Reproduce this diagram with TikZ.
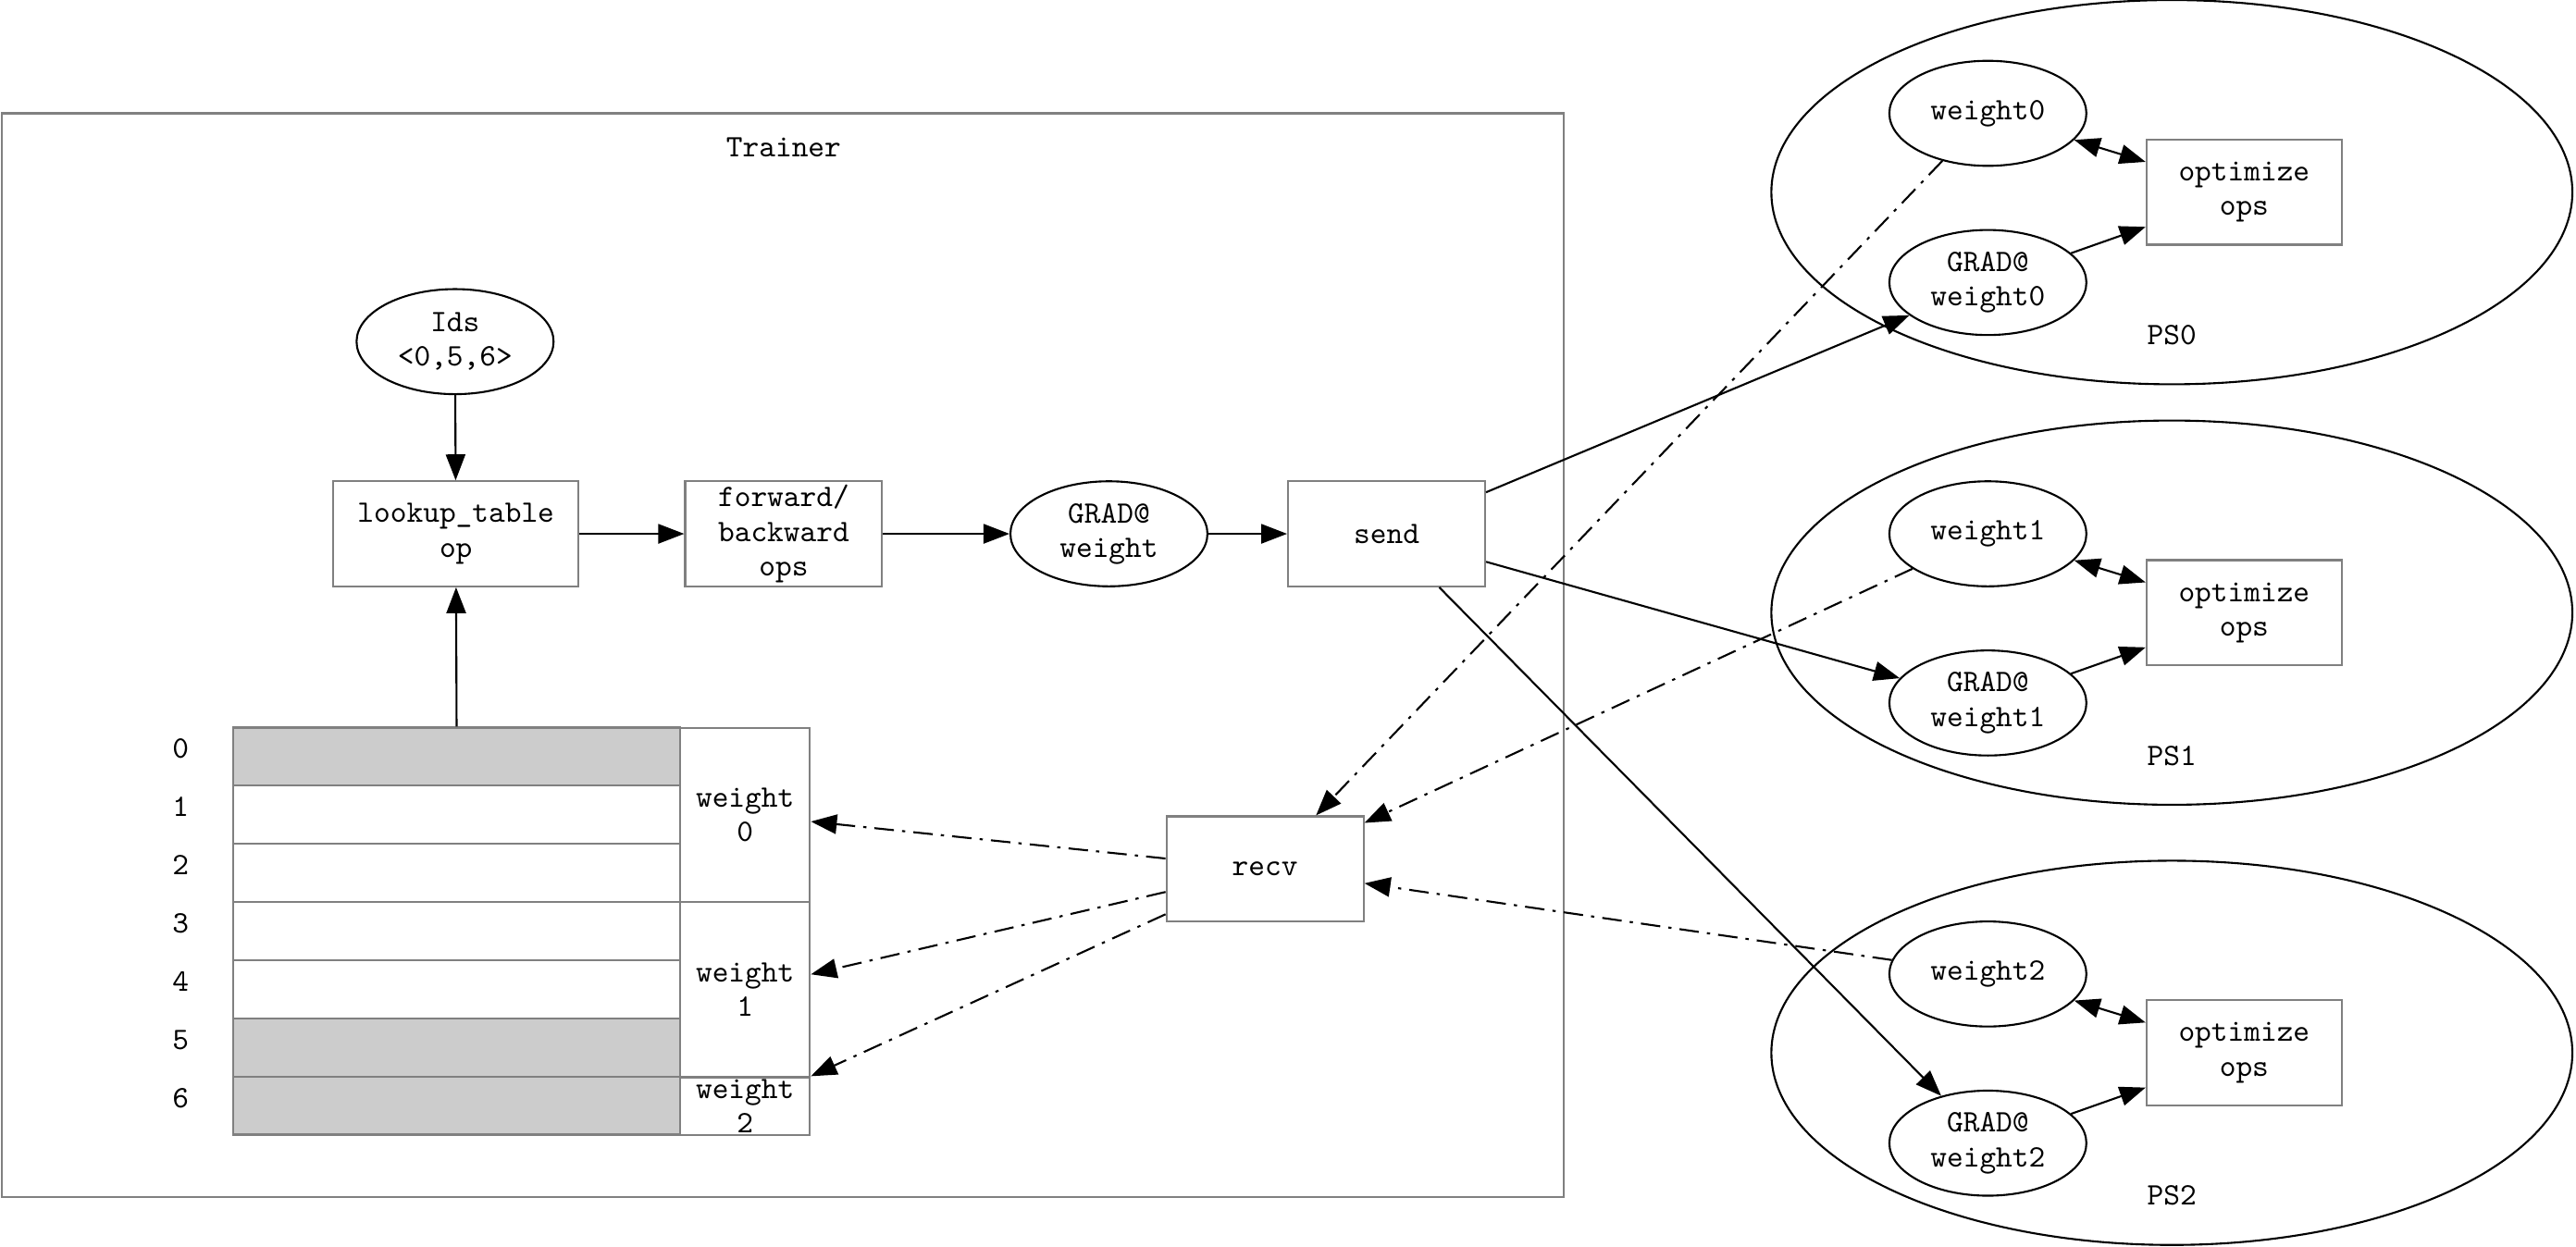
\documentclass[tikz,border=0pt]{standalone}
\usepackage{fontspec}
\usetikzlibrary{shapes.geometric,arrows.meta}

\definecolor{boxgray}{HTML}{808080}
\definecolor{shade}{HTML}{CCCCCC}

\tikzset{
  every node/.style={font=\ttfamily\fontsize{9.6}{10.6}\selectfont, align=center},
  box/.style={draw=boxgray, line width=0.6pt, minimum width=2.13cm, minimum height=1.136cm, inner sep=0pt},
  var/.style={ellipse, draw, line width=0.6pt, minimum width=2.13cm, minimum height=1.136cm, inner sep=0pt},
  server/.style={ellipse, draw, line width=0.6pt, minimum width=8.66cm, minimum height=4.155cm, inner sep=0pt},
  cell/.style={draw=boxgray, line width=0.6pt, minimum width=4.83cm, minimum height=0.629cm, inner sep=0pt},
  wcell/.style={draw=boxgray, line width=0.6pt, minimum width=1.403cm, inner sep=0pt},
  flow/.style={-{Triangle[length=0.28cm,width=0.21cm]}, line width=0.6pt},
  pull/.style={flow, dash pattern=on 6pt off 2.5pt on 1pt off 2.5pt},
}

\begin{document}
\begin{tikzpicture}[x=0.017755cm, y=-0.017755cm]
    \useasboundingbox (0,0) rectangle (1568,759);
    % Trainer side
    \draw[boxgray, line width=0.6pt] (1,69) rectangle (952,729);
    \node (trainer) at (477,90) {Trainer};
    \node[var] (ids) at (277,208) {Ids\\<0,5,6>};
    \node[box, minimum width=2.65cm] (lookup) at (277.5,325) {lookup\_table\\op};
    \node[box] (fwd) at (477,325) {forward/\\backward\\ops};
    \node[var] (grad) at (675,325) {GRAD@\\weight};
    \node[box] (send) at (844,325) {send};
    \node[box] (recv) at (770,529) {recv};

    % The table
    \foreach \i/\f in {0/shade,1/white,2/white,3/white,4/white,5/shade,6/shade} {
      \node[cell, fill=\f] (row\i) at (278,{460.7+35.4*\i}) {};
      \node (idx\i) at (110,{456+35.4*\i}) {\i};
    }
    \node[wcell, minimum height=1.882cm] (wt0) at (453.5,496) {weight\\0};
    \node[wcell, minimum height=1.9cm] (wt1) at (453.5,602.5) {weight\\1};
    \node[wcell, minimum height=0.629cm] (wt2) at (453.5,673.5) {weight\\2};

    \draw[flow] (ids) -- (lookup);
    \draw[flow] (row0) -- (lookup);
    \draw[flow] (lookup) -- (fwd);
    \draw[flow] (fwd) -- (grad);
    \draw[flow] (grad) -- (send);
    \foreach \k in {0,1,2}
      \draw[pull] (recv) -- (wt\k);

    % Parameter servers
    \foreach \k/\y in {0/117,1/373,2/641} {
      \node[server] (ps\k) at (1322,\y) {};
      \node (pslabel\k) at (1322,\y+87) {PS\k};
      \node[var] (w\k) at (1210,\y-48) {weight\k};
      \node[var] (gw\k) at (1210,\y+55) {GRAD@\\weight\k};
      \node[box, minimum width=2.11cm] (opt\k) at (1366,\y) {optimize\\ops};
      \draw[flow, {Triangle[length=0.28cm,width=0.21cm]}-{Triangle[length=0.28cm,width=0.21cm]}] (w\k) -- (opt\k);
      \draw[flow] (gw\k) -- (opt\k);
      \draw[flow] (send) -- (gw\k);
      \draw[pull] (w\k) -- (recv);
    }
\end{tikzpicture}
\end{document}
